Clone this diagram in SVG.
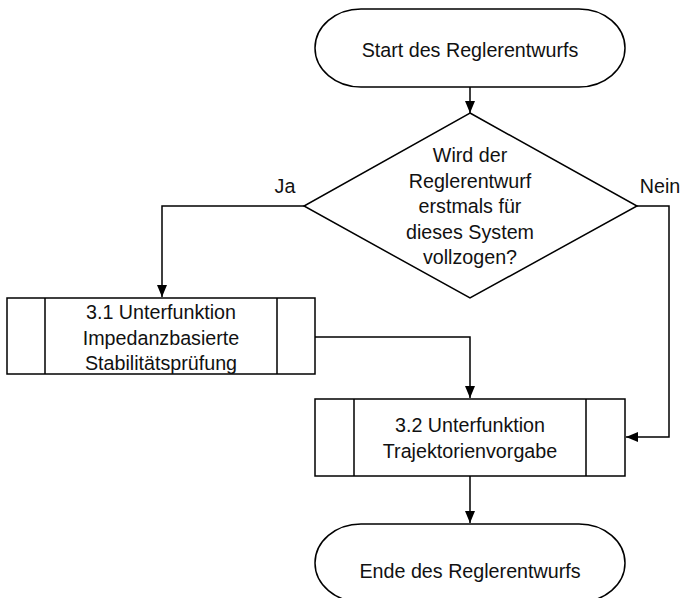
<svg xmlns="http://www.w3.org/2000/svg" width="682" height="598" viewBox="0 0 682 598">
<style>
.s{fill:#fff;stroke:#000;stroke-width:1.5}
.l{fill:none;stroke:#000;stroke-width:1.5}
.c{fill:none;stroke:#000;stroke-width:1.5;marker-end:url(#ah)}
text{font-family:"Liberation Sans",Arial,sans-serif;font-size:19.7px;fill:#111;text-anchor:middle}
</style>
<defs>
<marker id="ah" viewBox="0 0 12 10" refX="12" refY="5" markerWidth="12" markerHeight="10" markerUnits="userSpaceOnUse" orient="auto">
<path d="M0,0 L12,5 L0,10 Z" fill="#000"/>
</marker>
</defs>
<rect width="682" height="598" fill="#fff"/>
<g id="connectors">
<path class="c" d="M470,87 V113"/>
<path class="c" d="M304,206 H162 V297"/>
<path class="c" d="M315,337 H470 V398"/>
<path class="c" d="M637,206 H669 V437 H626"/>
<path class="c" d="M470,476 V523"/>
<text x="285" y="193">Ja</text>
<text x="660" y="193">Nein</text>
</g>
<g id="start">
<rect class="s" x="315" y="9" width="310" height="78" rx="46" ry="39"/>
<text x="470" y="57">Start des Reglerentwurfs</text>
</g>
<g id="decision">
<polygon class="s" points="470,113 637,206 470,298 304,206"/>
<text x="470" y="162">Wird der</text>
<text x="470" y="187.5">Reglerentwurf</text>
<text x="470" y="213">erstmals für</text>
<text x="470" y="238.5">dieses System</text>
<text x="470" y="264">vollzogen?</text>
</g>
<g id="sub31">
<rect class="s" x="7" y="298" width="308" height="76"/>
<path class="l" d="M45,298 V374 M277,298 V374"/>
<text x="161" y="319">3.1 Unterfunktion</text>
<text x="161" y="344.5">Impedanzbasierte</text>
<text x="161" y="370">Stabilitätsprüfung</text>
</g>
<g id="sub32">
<rect class="s" x="315" y="399" width="310" height="77"/>
<path class="l" d="M354,399 V476 M586,399 V476"/>
<text x="470" y="432">3.2 Unterfunktion</text>
<text x="470" y="458">Trajektorienvorgabe</text>
</g>
<g id="end">
<rect class="s" x="315" y="524" width="310" height="78" rx="46" ry="39"/>
<text x="470" y="578">Ende des Reglerentwurfs</text>
</g>
</svg>
